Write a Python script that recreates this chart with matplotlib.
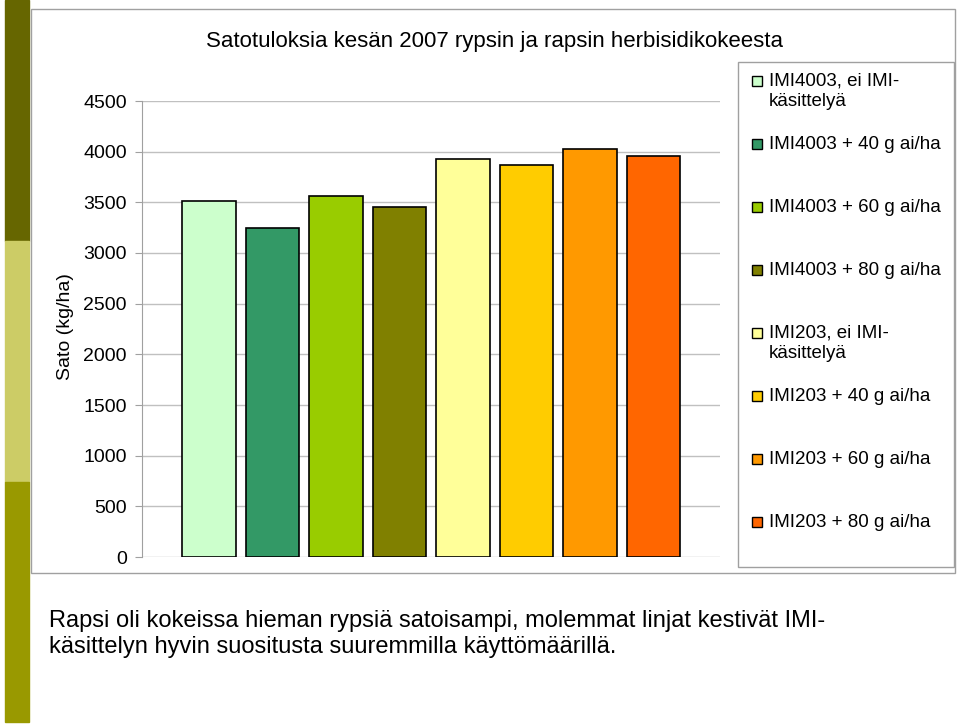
import matplotlib.pyplot as plt
from matplotlib.patches import Rectangle

plt.rcParams['font.family'] = ['Liberation Sans', 'DejaVu Sans']

labels = ['IMI4003, ei IMI-\nkäsittelyä', 'IMI4003 + 40 g ai/ha', 'IMI4003 + 60 g ai/ha',
          'IMI4003 + 80 g ai/ha', 'IMI203, ei IMI-\nkäsittelyä', 'IMI203 + 40 g ai/ha',
          'IMI203 + 60 g ai/ha', 'IMI203 + 80 g ai/ha']
yields = [3515, 3245, 3560, 3455, 3925, 3870, 4025, 3955]
colors = ['#CCFFCC', '#339966', '#99CC00', '#808000',
          '#FFFF99', '#FFCC00', '#FF9900', '#FF6600']
yticks = [0, 500, 1000, 1500, 2000, 2500, 3000, 3500, 4000, 4500]

W, H = 960, 724
fig = plt.figure(figsize=(9.6, 7.24), dpi=100)


def px_rect(x0, y0, x1, y1, **kw):
    # rectangle given in pixel coords measured from the top-left corner
    return Rectangle((x0 / W, 1 - y1 / H), (x1 - x0) / W, (y1 - y0) / H,
                     transform=fig.transFigure, **kw)


# left decorative stripe of the slide
for y0, y1, c in [(0, 241, '#666600'), (241, 482, '#CCCC66'), (482, 722, '#999900')]:
    fig.patches.append(px_rect(5, y0, 29, y1, color=c, zorder=0))

# chart frame
fig.patches.append(px_rect(31, 9, 955, 573, fill=False, edgecolor='#A0A0A0',
                           linewidth=1, zorder=0))

ax = fig.add_axes([142 / W, 1 - 557 / H, (720 - 142) / W, (557 - 101) / H])
x = list(range(len(yields)))
bars = ax.bar(x, yields, width=0.84, color=colors, edgecolor='black', linewidth=1.2, zorder=3)

ax.set_xlim(-1.055, 8.047)
ax.set_ylim(0, 4500)
ax.set_yticks(yticks)
ax.set_xticks([])
ax.tick_params(axis='y', labelsize=14, length=5, color='#A0A0A0', pad=6)
ax.grid(axis='y', color='#C0C0C0', linewidth=1, zorder=0)
for side in ['top', 'right', 'bottom']:
    ax.spines[side].set_visible(False)
ax.spines['left'].set_color('#A0A0A0')

fig.text(65 / W, 1 - 327 / H, 'Sato (kg/ha)', rotation=90, ha='center', va='center', fontsize=14)
fig.text(495 / W, 1 - 41 / H, 'Satotuloksia kesän 2007 rypsin ja rapsin herbisidikokeesta',
         ha='center', va='center', fontsize=16)

# legend: one fixed slot per entry, as in the original slide
fig.patches.append(px_rect(738, 62, 954, 567, fill=False, edgecolor='#A0A0A0',
                           linewidth=1, zorder=1))
for i, (lab, c) in enumerate(zip(labels, colors)):
    yc = 81 + 63 * i
    fig.patches.append(px_rect(752, yc - 5, 762, yc + 5, facecolor=c,
                               edgecolor='black', linewidth=1, zorder=2))
    fig.text(769 / W, 1 - (yc - 8) / H, lab, ha='left', va='top',
             fontsize=13.5, linespacing=1.25)

fig.text(49 / W, 1 - 610 / H,
         'Rapsi oli kokeissa hieman rypsiä satoisampi, molemmat linjat kestivät IMI-\n'
         'käsittelyn hyvin suositusta suuremmilla käyttömäärillä.',
         ha='left', va='top', fontsize=17, linespacing=1.22)

fig.savefig('out.png', dpi=100)
